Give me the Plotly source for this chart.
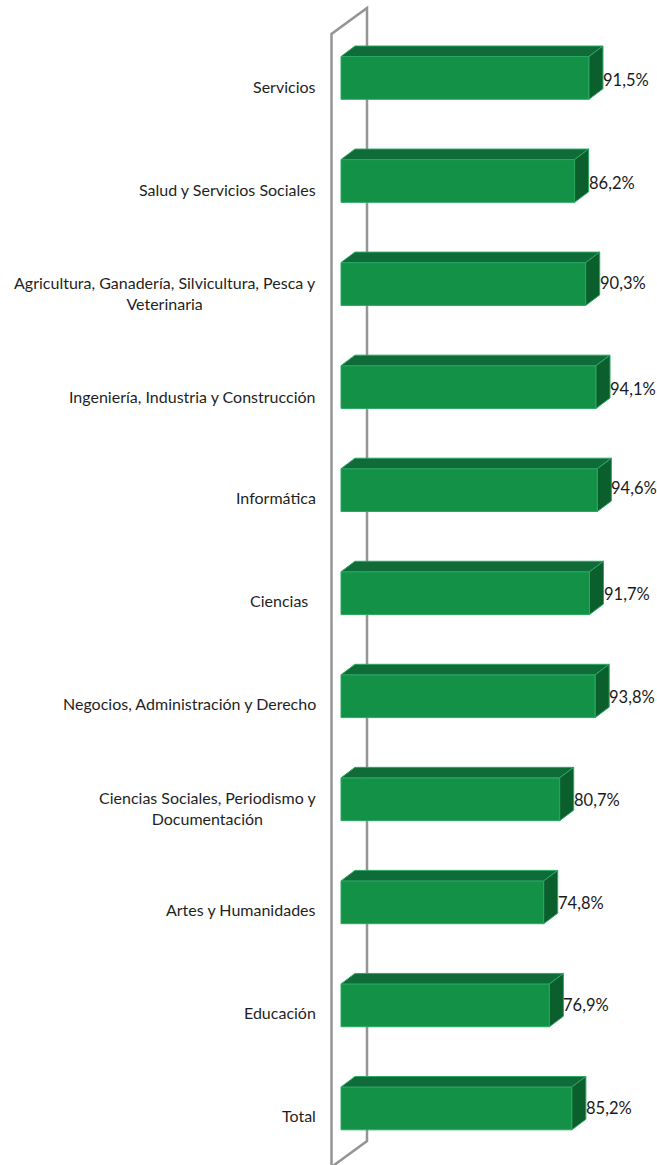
import plotly.graph_objects as go

categories = ["Total", "Educación", "Artes y Humanidades",
              "Ciencias Sociales, Periodismo y<br>Documentación",
              "Negocios, Administración y Derecho", "Ciencias\u00a0\u00a0",
              "Informática", "Ingeniería, Industria y Construcción",
              "Agricultura, Ganadería, Silvicultura, Pesca y<br>Veterinaria",
              "Salud y Servicios Sociales", "Servicios"]
values = [85.2, 76.9, 74.8, 80.7, 93.8, 91.7, 94.6, 94.1, 90.3, 86.2, 91.5]
value_labels = ["85,2%", "76,9%", "74,8%", "80,7%", "93,8%", "91,7%",
                "94,6%", "94,1%", "90,3%", "86,2%", "91,5%"]
label_nudge_px = [0, 0, -1, -1, -1, -1, 2, -2, 1, -2, -2]
category_nudge_px = [-7, -7, -7, -9, -7, -7, -7, -9, -9, -9, -9]

W, H = 657, 1165
PX_PER_PCT = 2.71
X0_PX = 341.0
ROW_PX = 103.05
Y0_PX = 1108.4
BAR_PX = 42.8
DX = 14 / PX_PER_PCT
DY = 10.5 / ROW_PX
BAR = BAR_PX / ROW_PX

FRONT, TOP, SIDE, EDGE = "#129147", "#0f6b38", "#0b5f2d", "#2ba763"
WALL = "#959595"

rows = list(range(len(values)))
fig = go.Figure()

fig.add_trace(go.Bar(x=values, y=rows, orientation="h", width=BAR, base=0,
                     marker=dict(color=FRONT, line=dict(color=EDGE, width=1)),
                     hoverinfo="skip", showlegend=False))

for v, r in zip(values, rows):
    t, b = r + BAR / 2, r - BAR / 2
    fig.add_trace(go.Scatter(x=[0, DX, v + DX, v, 0], y=[t, t + DY, t + DY, t, t],
                             mode="lines", fill="toself", fillcolor=TOP,
                             line=dict(color=EDGE, width=1), hoverinfo="skip", showlegend=False))
    fig.add_trace(go.Scatter(x=[v, v + DX, v + DX, v, v], y=[t, t + DY, b + DY, b, t],
                             mode="lines", fill="toself", fillcolor=SIDE,
                             line=dict(color=EDGE, width=1), hoverinfo="skip", showlegend=False))

annotations = []
for cat, r, n in zip(categories, rows, category_nudge_px):
    annotations.append(dict(x=0, y=r, xref="x", yref="y", text=cat, showarrow=False,
                            xanchor="right", yanchor="middle", align="center", xshift=-23,
                            yshift=n,
                            font=dict(family="Lato", size=16, color="#1f1f1f")))
for v, r, lab, n in zip(values, rows, value_labels, label_nudge_px):
    annotations.append(dict(x=v + DX, y=r, xref="x", yref="y", text=lab, showarrow=False,
                            xanchor="left", yanchor="middle", xshift=-2, yshift=n,
                            font=dict(family="Lato", size=16.5, color="#1a1a1a")))

wall_pts = [(331.5, 1170), (331.5, 34), (367, 8), (367, 1141), (331.5, 1167)]
path = "M " + " L ".join(f"{x / W:.5f},{1 - y / H:.5f}" for x, y in wall_pts)

fig.update_layout(
    width=W, height=H, margin=dict(l=0, r=0, t=0, b=0),
    paper_bgcolor="white", plot_bgcolor="white", showlegend=False,
    xaxis=dict(range=[-X0_PX / PX_PER_PCT, (W - X0_PX) / PX_PER_PCT], visible=False, fixedrange=True),
    yaxis=dict(range=[(Y0_PX - H) / ROW_PX, Y0_PX / ROW_PX], visible=False, fixedrange=True),
    annotations=annotations,
    shapes=[dict(type="path", path=path, xref="paper", yref="paper", layer="below",
                 line=dict(color=WALL, width=2.5), fillcolor="rgba(0,0,0,0)")],
)

fig.write_html("out.html", config={"displayModeBar": False},
               post_script="document.body.style.margin='0';document.body.style.overflow='hidden';window.dispatchEvent(new Event('resize'));")
